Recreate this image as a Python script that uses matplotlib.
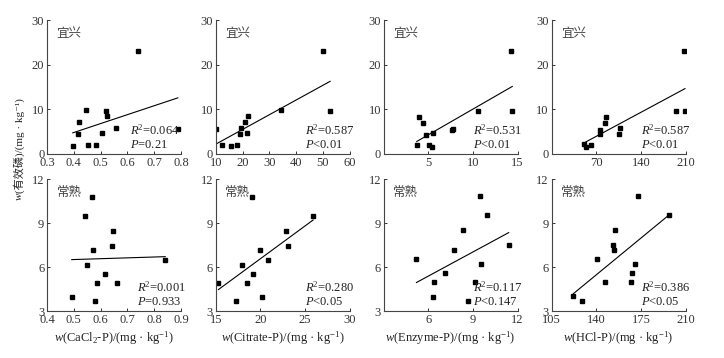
import numpy as np
import matplotlib
matplotlib.use('Agg')
import matplotlib.pyplot as plt

plt.rcParams['font.family'] = ['Liberation Serif', 'Noto Sans CJK SC', 'DejaVu Serif']
plt.rcParams['mathtext.fontset'] = 'custom'
plt.rcParams['mathtext.rm'] = 'Liberation Serif'
plt.rcParams['mathtext.it'] = 'Liberation Serif:italic'

# Yixing (top row) available P
yx_avail = [1.8, 4.5, 7.1, 9.8, 2.1, 2.1, 4.6, 9.6, 8.4, 5.9, 23.1, 5.5]
yx_cacl2 = [0.396, 0.414, 0.419, 0.444, 0.452, 0.484, 0.504, 0.520, 0.525, 0.558, 0.638, 0.788]
yx_citrate_avail = [5.5, 2.1, 1.8, 2.1, 4.5, 5.9, 7.1, 4.6, 8.4, 9.8, 23.1, 9.6]
yx_citrate = [10.1, 12.4, 15.8, 17.9, 19.1, 19.5, 21.0, 21.5, 22.0, 34.5, 50.1, 52.7]
yx_enzyme_avail = [1.9, 8.3, 7.0, 4.3, 2.0, 1.6, 4.6, 5.4, 5.7, 9.6, 23.1, 9.7]
yx_enzyme = [3.7, 4.0, 4.4, 4.7, 5.1, 5.4, 5.5, 7.6, 7.8, 10.6, 14.3, 14.4]
yx_hcl_avail = [2.2, 1.6, 1.9, 4.4, 5.4, 6.9, 8.3, 4.5, 5.8, 9.7, 23.1, 9.6]
yx_hcl = [50, 54, 62, 75, 76, 83, 85, 105, 107, 195, 207, 209]

# Changshu (bottom row)
cs_cacl2 = [0.492, 0.542, 0.566, 0.550, 0.571, 0.588, 0.580, 0.616, 0.643, 0.646, 0.660, 0.841]
cs_cacl2_avail = [3.95, 9.46, 10.78, 6.13, 7.13, 4.93, 3.66, 5.54, 7.42, 8.49, 4.90, 6.51]
cs_citrate = [15.3, 17.3, 17.9, 18.5, 19.1, 19.2, 19.9, 20.2, 20.9, 22.9, 23.1, 25.9]
cs_citrate_avail = [4.90, 3.66, 6.13, 4.93, 10.78, 5.54, 7.13, 3.95, 6.51, 8.49, 7.42, 9.46]
cs_enzyme = [5.2, 6.3, 6.4, 7.15, 7.75, 8.35, 8.65, 9.1, 9.5, 9.55, 9.95, 11.4]
cs_enzyme_avail = [6.58, 3.98, 5.0, 5.61, 7.17, 8.53, 3.70, 4.95, 10.85, 6.2, 9.55, 7.49]
cs_hcl = [122, 129, 140.9, 146.6, 152.9, 154, 154.5, 167.3, 167.8, 170.2, 172.8, 196.6]
cs_hcl_avail = [4.0, 3.70, 6.58, 5.0, 7.49, 7.17, 8.53, 4.95, 5.59, 6.2, 10.85, 9.55]

stats = [('0.064', '$P$=0.21'), ('0.587', '$P$<0.01'), ('0.531', '$P$<0.01'), ('0.587', '$P$<0.01'),
         ('0.001', '$P$=0.933'), ('0.280', '$P$<0.05'), ('0.117', '$P$<0.147'), ('0.386', '$P$<0.05')]

xlabels = ['$w$(CaCl$_2$-P)/(mg · kg$^{-1}$)', '$w$(Citrate-P)/(mg · kg$^{-1}$)',
           '$w$(Enzyme-P)/(mg · kg$^{-1}$)', '$w$(HCl-P)/(mg · kg$^{-1}$)']

xticks_top = [[0.3, 0.4, 0.5, 0.6, 0.7, 0.8], [10, 20, 30, 40, 50, 60], [5, 10, 15], [70, 140, 210]]
xlims_top = [(0.3, 0.8), (10, 60), (0, 15), (0, 210)]
xticks_bot = [[0.4, 0.5, 0.6, 0.7, 0.8, 0.9], [15, 20, 25, 30], [6, 9, 12], [105, 140, 175, 210]]
xlims_bot = [(0.4, 0.9), (15, 30), (3, 12), (105, 210)]

top_data = [(yx_cacl2, yx_avail), (yx_citrate, yx_citrate_avail),
            (yx_enzyme, yx_enzyme_avail), (yx_hcl, yx_hcl_avail)]
bot_data = [(cs_cacl2, cs_cacl2_avail), (cs_citrate, cs_citrate_avail),
            (cs_enzyme, cs_enzyme_avail), (cs_hcl, cs_hcl_avail)]

fig = plt.figure(figsize=(7.24, 3.58), dpi=100)

lefts = [0.065, 0.298, 0.530, 0.762]
w = 0.185
stat_x = [0.62, 0.67, 0.67, 0.67]


def draw(ax, x, y, site, xlim, xt, ylim, yt, st, sx):
    x = np.array(x)
    y = np.array(y)
    ax.plot(x, y, 's', color='black', markersize=3.2)
    k, b = np.polyfit(x, y, 1)
    xx = np.array([x.min(), x.max()])
    ax.plot(xx, k * xx + b, color='black', lw=0.8)
    ax.set_xlim(*xlim)
    ax.set_ylim(*ylim)
    ax.set_xticks(xt)
    ax.set_xticklabels(['%g' % t for t in xt])
    ax.set_yticks(yt)
    for s in ['top', 'right']:
        ax.spines[s].set_visible(False)
    for s in ['left', 'bottom']:
        ax.spines[s].set_linewidth(0.8)
        ax.spines[s].set_color('#444444')
    ax.tick_params(direction='in', length=2.5, width=0.7, labelsize=9, pad=2, colors='#333333')
    ax.text(0.07, 0.95, site, transform=ax.transAxes, fontsize=9, family='Noto Sans CJK SC',
            va='top', ha='left', color='#444444')
    ax.text(sx, 0.18, '$R$$^2$=' + st[0], transform=ax.transAxes, fontsize=9, va='center', color='#222222')
    ax.text(sx, 0.07, st[1], transform=ax.transAxes, fontsize=9, va='center', color='#222222')


for i in range(4):
    ax = fig.add_axes([lefts[i], 0.570, w, 0.374])
    x, y = top_data[i]
    draw(ax, x, y, '宜兴', xlims_top[i], xticks_top[i], (0, 30), [0, 10, 20, 30], stats[i], stat_x[i])
    ax2 = fig.add_axes([lefts[i], 0.131, w, 0.369])
    x, y = bot_data[i]
    draw(ax2, x, y, '常熟', xlims_bot[i], xticks_bot[i], (3, 12), [3, 6, 9, 12], stats[i + 4], 0.67)
    fig.text(lefts[i] + w / 2, 0.056, xlabels[i], ha='center', va='center', fontsize=9, color='#222222')

# y label: italic w + rest (CJK cannot go through mathtext)
ylab_x = 0.026
ylab_y = 0.462
fig.text(ylab_x, ylab_y, 'w', rotation=90, rotation_mode='anchor', ha='right', va='center',
         fontsize=8, style='italic', color='#222222')
fig.text(ylab_x, ylab_y, '(有效磷)/(mg · kg⁻¹)', rotation=90, rotation_mode='anchor', ha='left',
         va='center', fontsize=8, color='#222222')

fig.savefig('out.png', dpi=100)
